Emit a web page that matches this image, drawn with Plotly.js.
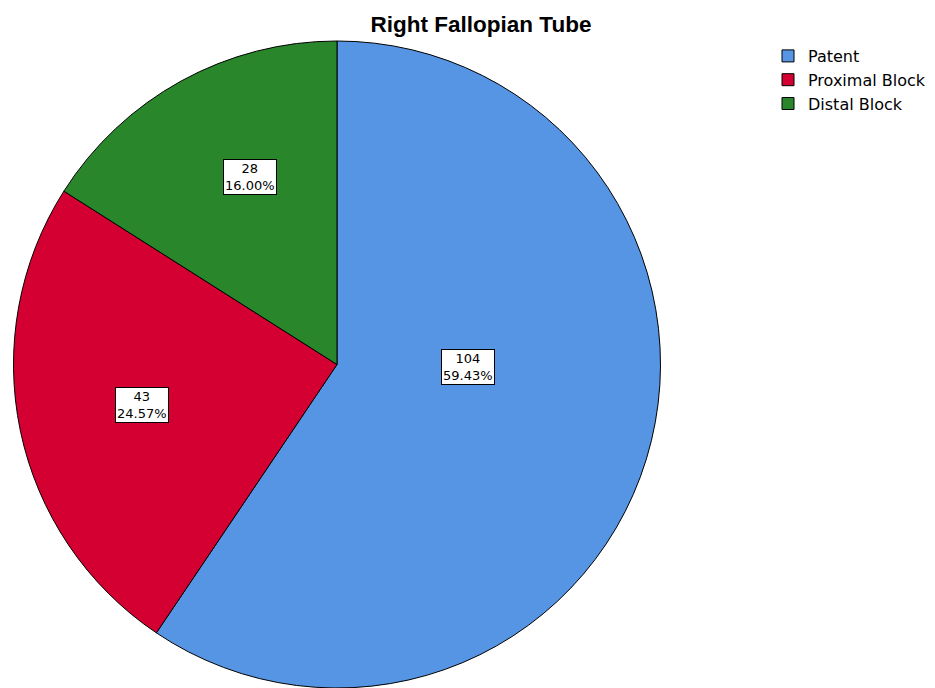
<!DOCTYPE html>
<html>
<head>
<meta charset="utf-8">
<script src="https://cdn.plot.ly/plotly-3.0.1.min.js"></script>
<style>html,body{margin:0;padding:0;background:#fff;}#chart{width:935px;height:688px;}</style>
</head>
<body>
<div id="chart"></div>
<script>
const categories = ["Patent", "Proximal Block", "Distal Block"];
const counts = [104, 43, 28];
const percentLabels = ["59.43%", "24.57%", "16.00%"];
const sliceColors = ["#5595E4", "#D50032", "#2A862A"];
const chartTitle = "Right Fallopian Tube";

// label box positions (paper coords) for each slice
const labelPos = [[468/935, 1-367/688], [142/935, 1-405/688], [250/935, 1-177/688]];

const trace = {
  type: "pie",
  labels: categories,
  values: counts,
  sort: false,
  direction: "clockwise",
  rotation: 0,
  marker: {colors: sliceColors, line: {color: "#000", width: 1}},
  textinfo: "none",
  hoverinfo: "label+value+percent",
  domain: {x: [12/935, 662/935], y: [0, 1-41/688]}
};

const annotations = categories.map((c, i) => ({
  x: labelPos[i][0], y: labelPos[i][1], xref: "paper", yref: "paper",
  text: counts[i] + "<br>" + percentLabels[i],
  showarrow: false,
  font: {family: "DejaVu Sans, sans-serif", size: 13, color: "#000"},
  bgcolor: "#fff", bordercolor: "#000", borderwidth: 1, borderpad: 1,
  xanchor: "center", yanchor: "middle"
}));

const layout = {
  width: 935, height: 688,
  margin: {l: 0, r: 0, t: 0, b: 0},
  paper_bgcolor: "#fff",
  title: {text: "<b>" + chartTitle + "</b>", x: 481/935, xanchor: "center", y: 1-24/688, yanchor: "middle",
          font: {family: "Liberation Sans, Arial, sans-serif", size: 22.5, color: "#000"}},
  showlegend: true,
  legend: {x: 768/935, y: 1-39/688, xanchor: "left", yanchor: "top",
           font: {family: "DejaVu Sans, sans-serif", size: 16, color: "#000"},
           tracegroupgap: 0, itemwidth: 30, traceorder: "normal"},
  annotations: annotations
};

Plotly.newPlot("chart", [trace], layout, {displayModeBar: false});
</script>
</body>
</html>
